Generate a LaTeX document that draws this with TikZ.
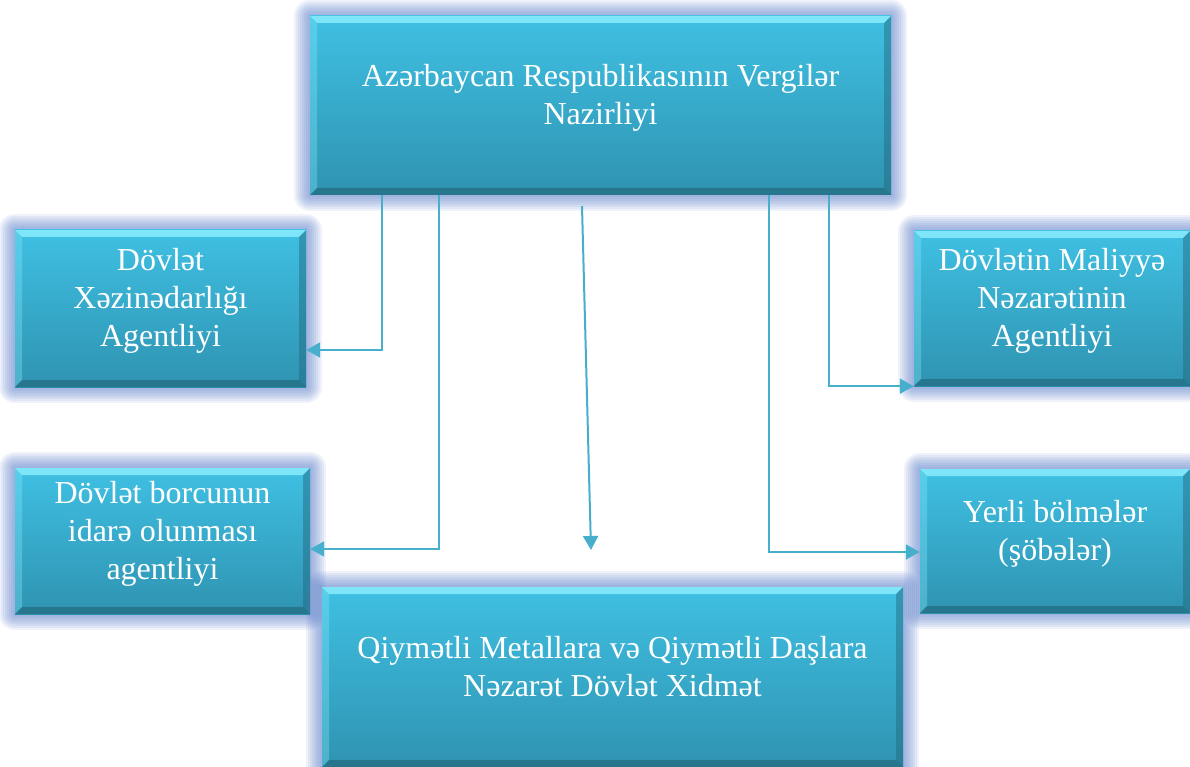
\documentclass[tikz,border=0pt]{standalone}
\usepackage{fontspec}
\setmainfont{Liberation Serif}
\usetikzlibrary{arrows.meta,calc}
\definecolor{boxtop}{HTML}{3FC0E3}
\definecolor{boxbot}{HTML}{2F93B1}
\definecolor{bevlight}{HTML}{86EAFB}
\definecolor{bevdark}{HTML}{22667A}
\definecolor{glowc}{HTML}{4F78C8}
\definecolor{connc}{HTML}{47AFCB}
\tikzset{
  glowring/.style={preaction={draw=glowc, line width=#1, opacity=0.09, line join=round}},
  orgbox/.style={rectangle, top color=boxtop, bottom color=boxbot, text=white,
    align=center, font=\fontsize{32}{38}\selectfont, inner sep=0pt, text depth=22pt,
    glowring=32pt, glowring=28pt, glowring=24pt, glowring=20pt,
    glowring=16pt, glowring=12pt, glowring=8pt, glowring=4pt,
    path picture={
      \fill[bevlight, opacity=0.9] (path picture bounding box.north west) -- (path picture bounding box.north east) -- ([shift={(-7pt,-7pt)}]path picture bounding box.north east) -- ([shift={(7pt,-7pt)}]path picture bounding box.north west) -- cycle;
      \fill[bevlight, opacity=0.35] (path picture bounding box.north west) -- ([shift={(7pt,-7pt)}]path picture bounding box.north west) -- ([shift={(7pt,7pt)}]path picture bounding box.south west) -- (path picture bounding box.south west) -- cycle;
      \fill[bevdark, opacity=0.65] (path picture bounding box.south west) -- ([shift={(7pt,7pt)}]path picture bounding box.south west) -- ([shift={(-7pt,7pt)}]path picture bounding box.south east) -- (path picture bounding box.south east) -- cycle;
      \fill[bevdark, opacity=0.45] (path picture bounding box.north east) -- ([shift={(-7pt,-7pt)}]path picture bounding box.north east) -- ([shift={(-7pt,7pt)}]path picture bounding box.south east) -- (path picture bounding box.south east) -- cycle;
    }},
  link/.style={draw=connc, line width=2pt, -{Triangle[length=14pt,width=15pt,fill=connc]}},
}
\begin{document}
\begin{tikzpicture}[x=1pt,y=-1pt]
\useasboundingbox (0,0) rectangle (1190,767);
\fill[white] (0,0) rectangle (1190,767);
\node[orgbox, minimum width=581pt, minimum height=179pt] (top) at (600.5,105.5) {Azərbaycan Respublikasının Vergilər\\Nazirliyi};
\node[orgbox, minimum width=291pt, minimum height=157pt] (b1) at (160.5,308.5) {Dövlət\\Xəzinədarlığı\\Agentliyi};
\node[orgbox, minimum width=295pt, minimum height=146pt] (b2) at (162.5,541) {Dövlət borcunun\\idarə olunması\\agentliyi};
\node[orgbox, minimum width=276pt, minimum height=155pt] (b4) at (1052,308.5) {Dövlətin Maliyyə\\Nəzarətinin\\Agentliyi};
\node[orgbox, minimum width=270pt, minimum height=144pt] (b5) at (1055,541) {Yerli bölmələr\\(şöbələr)};
\node[orgbox, minimum width=581pt, minimum height=180pt] (b3) at (612.5,677) {Qiymətli Metallara və Qiymətli Daşlara\\Nəzarət Dövlət Xidmət};
\coordinate (c3end) at (591,550);
\draw[link] ([xshift=-218.5pt]top.south) |- ([yshift=-41.5pt]b1.east);
\draw[link] ([xshift=-161.5pt]top.south) |- ([yshift=-8pt]b2.east);
\draw[link] ([xshift=-18.5pt,yshift=-11pt]top.south) -- (c3end);
\draw[link] ([xshift=228.5pt]top.south) |- (b4.south west);
\draw[link] ([xshift=168.5pt]top.south) |- ([yshift=-11pt]b5.west);
\end{tikzpicture}
\end{document}
